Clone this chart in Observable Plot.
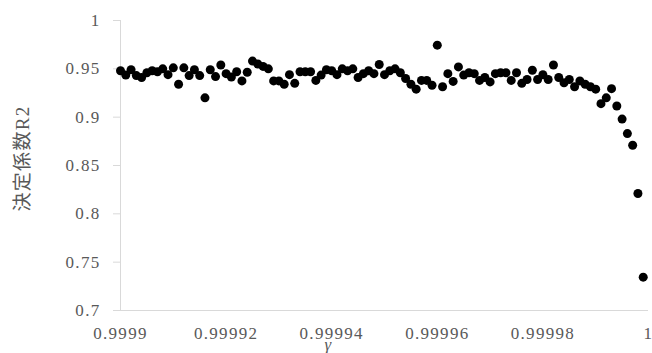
<!DOCTYPE html>
<html><head><meta charset="utf-8">
<script src="https://cdn.jsdelivr.net/npm/d3@7"></script>
<script src="https://cdn.jsdelivr.net/npm/@observablehq/plot@0.6"></script>
<style>body{margin:0;background:#fff} #chart svg{display:block}</style>
</head><body><div id="chart"></div>
<script>
const gamma = [
  0.999900, 0.999901, 0.999902, 0.999903, 0.999904, 0.999905, 0.999906, 0.999907, 0.999908, 0.999909,
  0.999910, 0.999911, 0.999912, 0.999913, 0.999914, 0.999915, 0.999916, 0.999917, 0.999918, 0.999919,
  0.999920, 0.999921, 0.999922, 0.999923, 0.999924, 0.999925, 0.999926, 0.999927, 0.999928, 0.999929,
  0.999930, 0.999931, 0.999932, 0.999933, 0.999934, 0.999935, 0.999936, 0.999937, 0.999938, 0.999939,
  0.999940, 0.999941, 0.999942, 0.999943, 0.999944, 0.999945, 0.999946, 0.999947, 0.999948, 0.999949,
  0.999950, 0.999951, 0.999952, 0.999953, 0.999954, 0.999955, 0.999956, 0.999957, 0.999958, 0.999959,
  0.999960, 0.999961, 0.999962, 0.999963, 0.999964, 0.999965, 0.999966, 0.999967, 0.999968, 0.999969,
  0.999970, 0.999971, 0.999972, 0.999973, 0.999974, 0.999975, 0.999976, 0.999977, 0.999978, 0.999979,
  0.999980, 0.999981, 0.999982, 0.999983, 0.999984, 0.999985, 0.999986, 0.999987, 0.999988, 0.999989,
  0.999990, 0.999991, 0.999992, 0.999993, 0.999994, 0.999995, 0.999996, 0.999997, 0.999998, 0.999999
];
const r2 = [
  0.948, 0.9435, 0.949, 0.943, 0.941, 0.946, 0.948, 0.947, 0.950, 0.944,
  0.951, 0.934, 0.951, 0.943, 0.949, 0.943, 0.920, 0.949, 0.942, 0.954,
  0.945, 0.9415, 0.947, 0.9375, 0.9465, 0.958, 0.955, 0.9525, 0.950, 0.9375,
  0.9375, 0.934, 0.944, 0.935, 0.947, 0.947, 0.947, 0.938, 0.9435, 0.949,
  0.948, 0.944, 0.950, 0.948, 0.950, 0.941, 0.945, 0.948, 0.945, 0.9545,
  0.944, 0.948, 0.950, 0.946, 0.940, 0.934, 0.929, 0.938, 0.938, 0.933,
  0.9745, 0.9315, 0.945, 0.937, 0.952, 0.9435, 0.946, 0.945, 0.938, 0.941,
  0.9365, 0.945, 0.946, 0.946, 0.938, 0.946, 0.935, 0.939, 0.9485, 0.939,
  0.944, 0.939, 0.954, 0.941, 0.9355, 0.939, 0.9315, 0.9375, 0.934, 0.9315,
  0.929, 0.914, 0.920, 0.9295, 0.9115, 0.898, 0.883, 0.871, 0.821, 0.7345
];
const xTicks = [0.9999, 0.99992, 0.99994, 0.99996, 0.99998, 1];
const yTicks = [0.7, 0.75, 0.8, 0.85, 0.9, 0.95, 1];
const yLabel = "決定係数R2";
const xLabel = "γ";

const data = gamma.map((g, i) => ({g, r: r2[i]}));
const fmt = d => String(+d.toFixed(5));

const chart = Plot.plot({
  width: 652, height: 353,
  marginLeft: 120, marginRight: 4, marginTop: 20, marginBottom: 43,
  style: {fontFamily: "'Liberation Serif','Noto Sans CJK JP',serif", fontSize: "17px", color: "#595959", background: "#fff", letterSpacing: "1.3px"},
  x: {domain: [0.9999, 1]},
  y: {domain: [0.7, 1]},
  marks: [
    Plot.ruleX([0.9999], {stroke: "#d9d9d9"}),
    Plot.ruleY([0.7], {stroke: "#d9d9d9"}),
    Plot.axisY({ticks: yTicks, tickFormat: fmt, tickSize: 7, tickPadding: 13, stroke: "#d9d9d9", fill: "#595959", label: null}),
    Plot.axisX({ticks: xTicks, tickFormat: fmt, tickSize: 0, tickPadding: 16, fill: "#595959", label: null}),
    Plot.dot(data, {x: "g", y: "r", r: 4.5, fill: "black", stroke: null}),
    Plot.text([yLabel], {text: d => d, frameAnchor: "left", textAnchor: "middle", rotate: -90, dx: -98, dy: -7, fontSize: 19, fill: "#595959"}),
    Plot.text([xLabel], {text: d => d, frameAnchor: "bottom", textAnchor: "middle", dx: -56, dy: 39, fontStyle: "italic", fontSize: 17, fill: "#595959"})
  ]
});
document.getElementById("chart").appendChild(chart);
</script>
</body></html>
